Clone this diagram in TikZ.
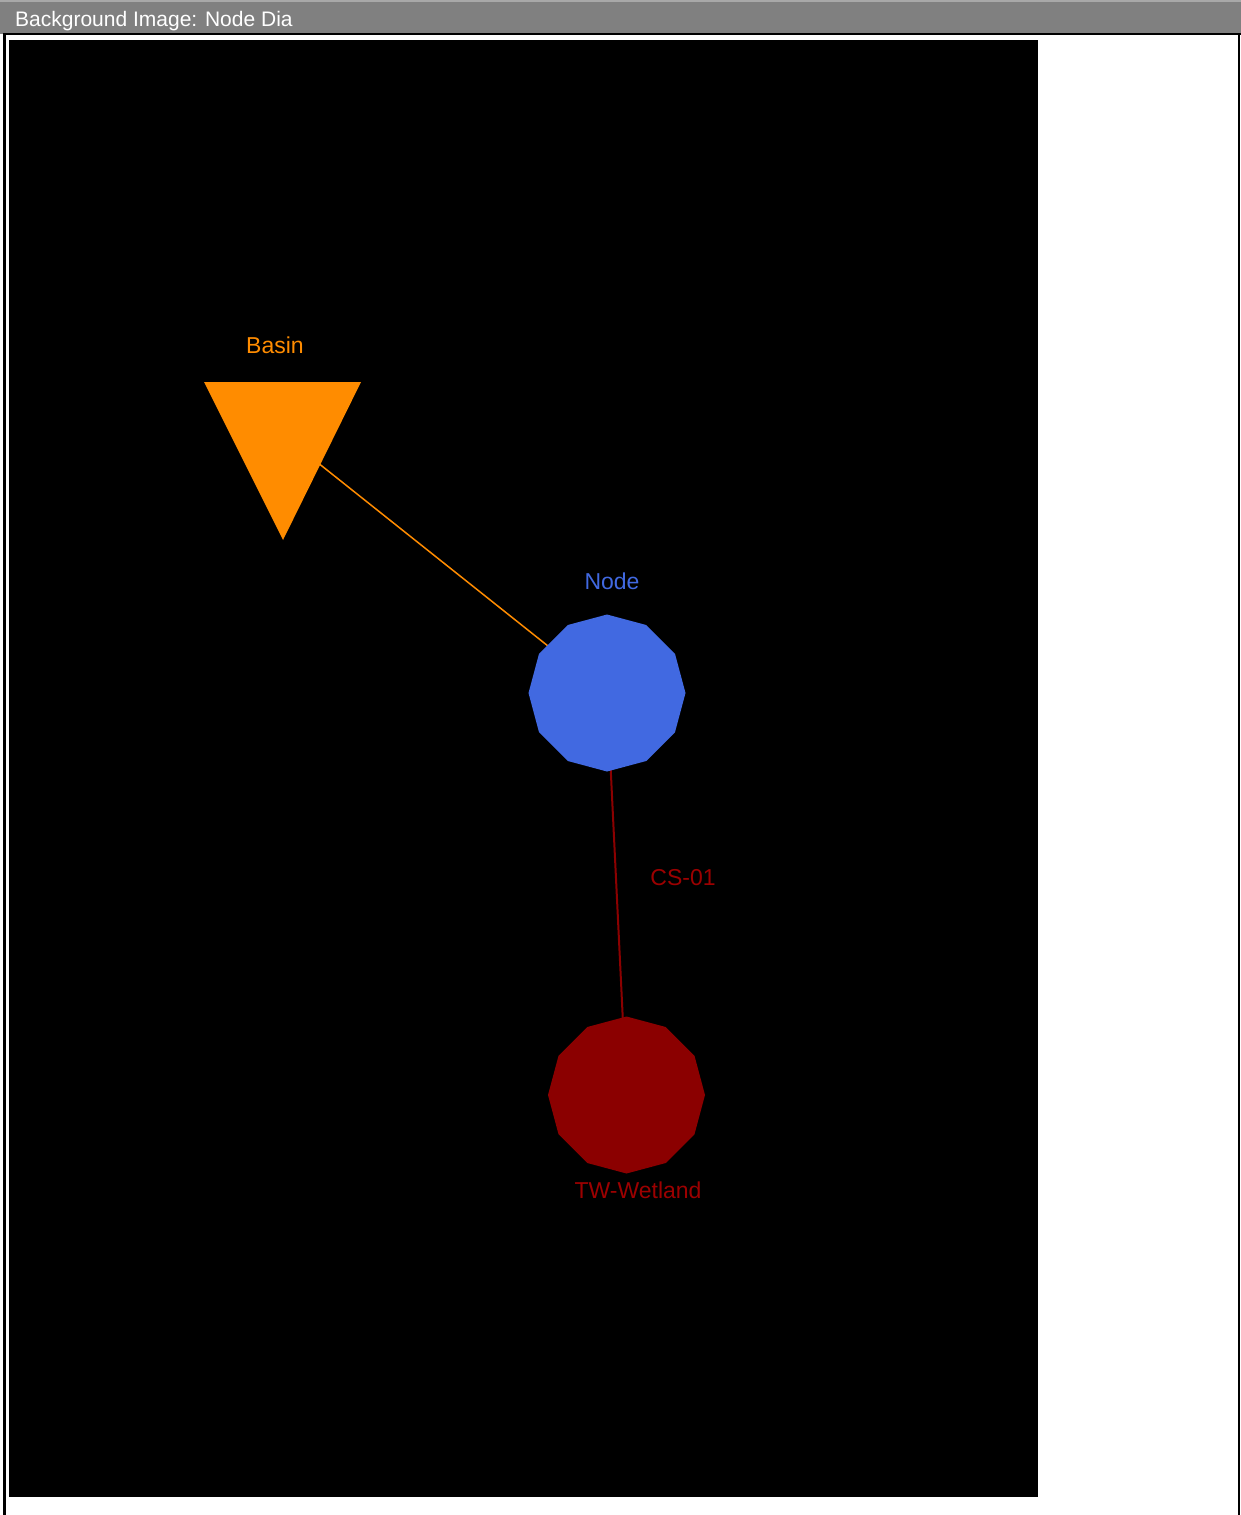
\documentclass[tikz,border=0pt]{standalone}
\usepackage{fontspec}
\setmainfont{Liberation Sans}
\usetikzlibrary{shapes.geometric}
\pgfdeclarelayer{back}
\pgfdeclarelayer{bg}
\pgfsetlayers{back,bg,main}
\definecolor{barGrey}{HTML}{808080}
\definecolor{barLight}{HTML}{A8A8A8}
\definecolor{basinOrange}{HTML}{FF8C00}
\definecolor{nodeBlue}{HTML}{4169E1}
\definecolor{wetRed}{HTML}{8B0000}
\begin{document}
\begin{tikzpicture}[x=1pt,y=-1pt,
  junction/.style={regular polygon, regular polygon sides=12, shape border rotate=15,
    minimum size=157pt, inner sep=0pt, draw=none},
  lbl/.style={font=\fontsize{23}{23}\selectfont, anchor=base, inner sep=0pt},
  link/.style={line width=1.5pt}]
\useasboundingbox (0,0) rectangle (1241,1515);
\begin{pgfonlayer}{back}
  \fill[white] (0,0) rectangle (1241,1515);
  \fill[barGrey] (0,0) rectangle (1241,34);
  \fill[barLight] (0,0) rectangle (1241,2);
  \draw[line width=2.2pt] (3,34) -- (1241,34);
  \draw[line width=2.2pt] (4.5,33) -- (4.5,1515);
  \draw[line width=2.2pt] (1239,33) -- (1239,1515);
  \fill[black] (8.5,39.5) rectangle (1038,1497);
\end{pgfonlayer}
\node[anchor=base west, text=white, font=\fontsize{21}{21}\selectfont, inner sep=0pt]
  (title) at (15,27) {Background Image: Node Dia};
% shapes
\fill[basinOrange] (204,382) -- (361,382) -- (283,540) -- cycle;
\coordinate (basin) at (283,435);
\node[junction, fill=nodeBlue] (node) at (607,693) {};
\node[junction, fill=wetRed] (wet) at (626.5,1095) {};
% connectors
\begin{pgfonlayer}{bg}
  \draw[link, basinOrange] (basin) -- (node.center);
  \draw[link, wetRed, line width=2pt] (node.center) -- (wet.center);
\end{pgfonlayer}
% labels
\node[lbl, text=basinOrange] (basinlbl) at (275,353) {Basin};
\node[lbl, text=nodeBlue] (nodelbl) at (612,589) {Node};
\node[lbl, text=wetRed!85!red] (cslbl) at (683,885) {CS-01};
\node[lbl, text=wetRed!85!red] (wetlbl) at (638,1198) {TW-Wetland};
\end{tikzpicture}
\end{document}
